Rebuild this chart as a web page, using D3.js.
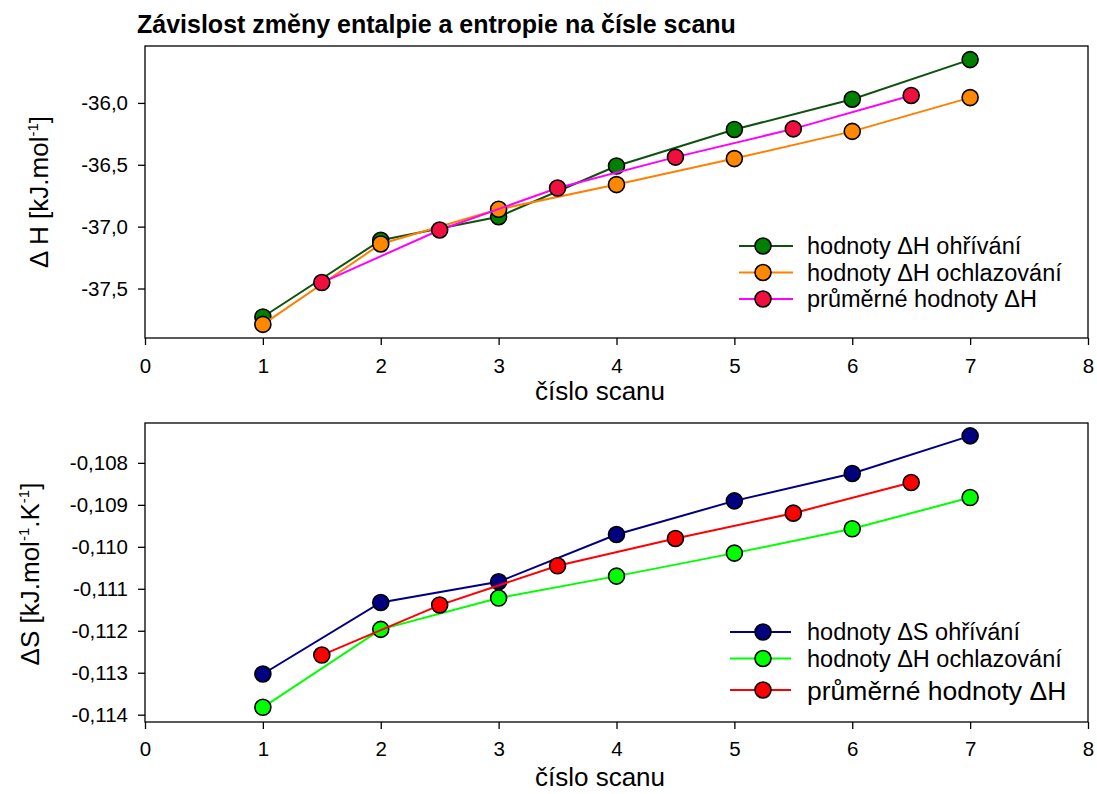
<!DOCTYPE html>
<html>
<head>
<meta charset="utf-8">
<script src="https://cdn.jsdelivr.net/npm/d3@7"></script>
<style>
  body { margin: 0; background: #fff; }
  svg { font-family: "Liberation Sans", Arial, sans-serif; }
  .tick text { font-size: 20.5px; fill: #000; }
  .tick line, .domain { stroke: #000; stroke-width: 1.3; }
</style>
</head>
<body>
<script>
const w = 1097;
const h = 794;

// data
const scanX = [1, 2, 3, 4, 5, 6, 7];
const avgX = [1.5, 2.5, 3.5, 4.5, 5.5, 6.5];

const dHheat = [-37.73, -37.11, -36.92, -36.51, -36.215, -35.97, -35.65];
const dHcool = [-37.79, -37.14, -36.86, -36.66, -36.45, -36.23, -35.957];
const dHavg = [-37.452, -37.027, -36.688, -36.438, -36.21, -35.94];

const dSheat = [-0.11303, -0.111326, -0.110833, -0.109707, -0.108905, -0.108252, -0.107357];
const dScool = [-0.113824, -0.111967, -0.111221, -0.110698, -0.11015, -0.109571, -0.108826];
const dSavg = [-0.112579, -0.111388, -0.110452, -0.109802, -0.109198, -0.108467];

const xTicks = [0, 1, 2, 3, 4, 5, 6, 7, 8];
const hTicks = [-36.0, -36.5, -37.0, -37.5];
const sTicks = [-0.108, -0.109, -0.110, -0.111, -0.112, -0.113, -0.114];

const hLegend = ["hodnoty \u0394H ohřívání", "hodnoty \u0394H ochlazování", "průměrné hodnoty \u0394H"];
const sLegend = ["hodnoty \u0394S ohřívání", "hodnoty \u0394H ochlazování", "průměrné hodnoty \u0394H"];

const svg = d3.select("body").append("svg").attr("width", w).attr("height", h);

const comma = (f) => (d) => d3.format(f)(d).replace(".", ",").replace("−", "-");

const xScale = d3.scaleLinear().domain([0, 8]).range([145, 1088]);

const panel = (cfg) => {
  const { top, bottom, yDomain, yTicks, yFmt, series, legend, legendRows, legendLine, legendSizes, xPad } = cfg;
  const yScale = d3.scaleLinear().domain(yDomain).range([bottom, top]);

  // frame
  svg.append("rect")
    .attr("x", 145).attr("y", top)
    .attr("width", 1088 - 145).attr("height", bottom - top)
    .attr("fill", "none").attr("stroke", "#000").attr("stroke-width", 1.3);

  // x axis
  const xAG = svg.append("g")
    .attr("transform", `translate(0, ${bottom})`)
    .call(d3.axisBottom(xScale).tickValues(xTicks).tickFormat(d3.format("d")).tickSize(7).tickSizeOuter(0).tickPadding(xPad));
  xAG.select(".domain").remove();

  // y axis
  const yAG = svg.append("g")
    .attr("transform", "translate(145, 0)")
    .call(d3.axisLeft(yScale).tickValues(yTicks).tickFormat(yFmt).tickSize(7).tickSizeOuter(0).tickPadding(10));
  yAG.select(".domain").remove();

  // series: line then markers, each drawn on top of the previous
  const line = d3.line().x((d) => xScale(d[0])).y((d) => yScale(d[1]));
  series.forEach((s) => {
    const pts = s.x.map((x, i) => [x, s.y[i]]);
    svg.append("path")
      .attr("d", line(pts))
      .attr("fill", "none")
      .attr("stroke", s.line)
      .attr("stroke-width", 2);
    svg.append("g").selectAll("circle")
      .data(pts)
      .enter()
      .append("circle")
      .attr("cx", (d) => xScale(d[0]))
      .attr("cy", (d) => yScale(d[1]))
      .attr("r", 8)
      .attr("fill", s.fill)
      .attr("stroke", "#000")
      .attr("stroke-width", 1.6);
  });

  // legend
  legend.forEach((label, i) => {
    const s = series[i];
    const y = legendRows[i];
    svg.append("line")
      .attr("x1", legendLine[0]).attr("x2", legendLine[1])
      .attr("y1", y).attr("y2", y)
      .attr("stroke", s.line).attr("stroke-width", 2);
    svg.append("circle")
      .attr("cx", 763).attr("cy", y).attr("r", 8)
      .attr("fill", s.fill).attr("stroke", "#000").attr("stroke-width", 1.6);
    svg.append("text")
      .attr("x", 807).attr("y", y)
      .attr("dy", "0.36em")
      .attr("font-size", legendSizes[i])
      .text(label);
  });
};

// title
svg.append("text")
  .attr("x", 137).attr("y", 33)
  .attr("font-size", 25)
  .attr("font-weight", "bold")
  .text("Závislost změny entalpie a entropie na čísle scanu");

panel({
  top: 46, bottom: 338,
  yDomain: [-37.9, -35.54],
  yTicks: hTicks,
  yFmt: comma(".1f"),
  series: [
    { x: scanX, y: dHheat, line: "#0f520f", fill: "#008000" },
    { x: scanX, y: dHcool, line: "#ff8000", fill: "#ff8800" },
    { x: avgX, y: dHavg, line: "#ff00ff", fill: "#f01040" }
  ],
  legend: hLegend,
  legendRows: [246, 272.5, 299],
  legendLine: [739, 793],
  legendSizes: [23.5, 23.5, 23.5],
  xPad: 13
});

panel({
  top: 423, bottom: 722,
  yDomain: [-0.114174, -0.10705],
  yTicks: sTicks,
  yFmt: comma(".3f"),
  series: [
    { x: scanX, y: dSheat, line: "#000080", fill: "#000080" },
    { x: scanX, y: dScool, line: "#00ff00", fill: "#00ff00" },
    { x: avgX, y: dSavg, line: "#ff0000", fill: "#ff0000" }
  ],
  legend: sLegend,
  legendRows: [632, 658.5, 690],
  legendLine: [730, 791],
  legendSizes: [23.5, 23.5, 26.5],
  xPad: 12
});

// x axis titles
[400, 786].forEach((y) => {
  svg.append("text")
    .attr("x", 600).attr("y", y)
    .attr("text-anchor", "middle")
    .attr("font-size", 26)
    .text("číslo scanu");
});

// y axis titles with superscripts
const yTitle = (x, y, parts) => {
  const t = svg.append("text")
    .attr("transform", `translate(${x}, ${y}) rotate(-90)`)
    .attr("text-anchor", "middle")
    .attr("font-size", 26);
  parts.forEach((p) => {
    t.append("tspan")
      .attr("font-size", p.sup ? 15 : 26)
      .attr("dy", p.sup ? -10 : (p.after ? 10 : 0))
      .text(p.t);
  });
};

yTitle(48, 192, [
  { t: "\u0394 H [kJ.mol" },
  { t: "-1", sup: true },
  { t: "]", after: true }
]);

yTitle(39, 574, [
  { t: "\u0394S [kJ.mol" },
  { t: "-1", sup: true },
  { t: ".K", after: true },
  { t: "-1", sup: true },
  { t: "]", after: true }
]);
</script>
</body>
</html>
